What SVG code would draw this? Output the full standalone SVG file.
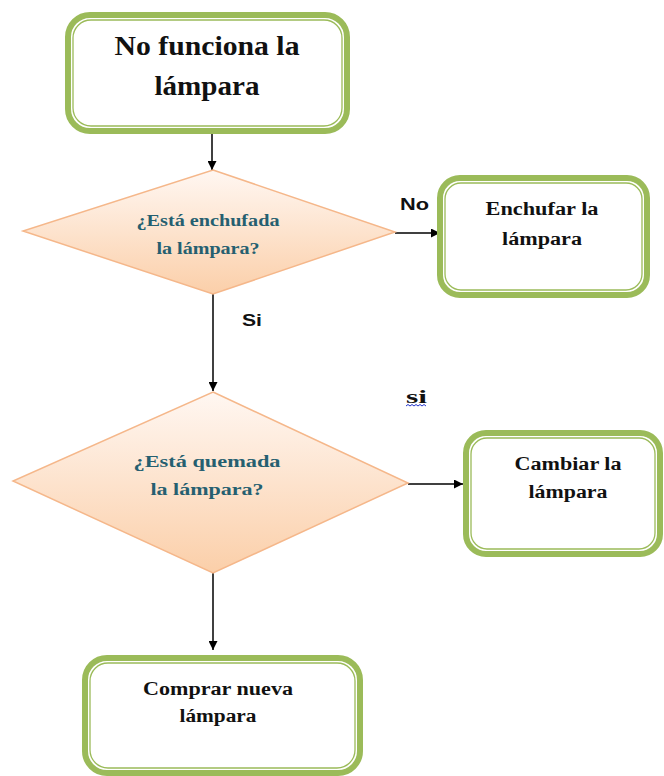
<svg xmlns="http://www.w3.org/2000/svg" width="664" height="776" viewBox="0 0 664 776">
<style>
.outer{fill:#ffffff;stroke:#9bbb59;stroke-width:6}
.inner{fill:none;stroke:#9bbb59;stroke-width:1.3}
.dia{fill:url(#peach);stroke:#f5b78a;stroke-width:1.5}
.box{font-family:"Liberation Serif","Times New Roman",serif;font-weight:bold;fill:#111111;text-anchor:middle}
.q{font-family:"Liberation Serif","Times New Roman",serif;font-weight:bold;fill:#255f70;text-anchor:middle}
.lbl{font-family:"Liberation Sans",Arial,sans-serif;font-weight:bold;fill:#111111}
.conn{stroke:#000000;stroke-width:1.5;fill:none}
</style>
<defs>
<linearGradient id="peach" x1="0" y1="0" x2="0" y2="1">
<stop offset="0" stop-color="#fff7f2"/>
<stop offset="1" stop-color="#fbcfa9"/>
</linearGradient>
<marker id="arr" viewBox="0 0 10 10" refX="10" refY="5" markerWidth="9" markerHeight="9" markerUnits="userSpaceOnUse" orient="auto">
<path d="M0,0 L10,5 L0,10 Z" fill="#000000"/>
</marker>
</defs>

<g id="connectors">
<line class="conn" x1="212" y1="134" x2="212" y2="170" marker-end="url(#arr)"/>
<line class="conn" x1="395" y1="233" x2="440" y2="233" marker-end="url(#arr)"/>
<line class="conn" x1="213" y1="294" x2="213" y2="391" marker-end="url(#arr)"/>
<line class="conn" x1="408" y1="484" x2="463" y2="484" marker-end="url(#arr)"/>
<line class="conn" x1="213" y1="573" x2="213" y2="650" marker-end="url(#arr)"/>
<text class="lbl" x="400" y="210" font-size="16" textLength="29" lengthAdjust="spacingAndGlyphs">No</text>
<text class="lbl" x="242" y="326" font-size="17" textLength="20" lengthAdjust="spacingAndGlyphs">Si</text>
<text x="406" y="403" font-family="Liberation Serif, Times New Roman, serif" font-weight="bold" font-size="18" fill="#111111" textLength="21" lengthAdjust="spacingAndGlyphs">si</text>
<path d="M406,406 l2,-1.5 l2,1.5 l2,-1.5 l2,1.5 l2,-1.5 l2,1.5 l2,-1.5 l2,1.5 l2,-1.5 l2,1.5" stroke="#2233cc" stroke-width="1" fill="none"/>
</g>

<g id="n_start">
<rect class="outer" x="68" y="15" width="279" height="116" rx="22"/>
<rect class="inner" x="73" y="20" width="269" height="106" rx="18"/>
<text class="box" x="207" y="55" font-size="27" textLength="185" lengthAdjust="spacingAndGlyphs">No funciona la</text>
<text class="box" x="207" y="95" font-size="27" textLength="105" lengthAdjust="spacingAndGlyphs">lámpara</text>
</g>

<g id="n_enchufada">
<polygon class="dia" points="213,170 395,232 213,294 23,231"/>
<text class="q" x="208" y="226" font-size="16" textLength="143" lengthAdjust="spacingAndGlyphs">¿Está enchufada</text>
<text class="q" x="208" y="254" font-size="16" textLength="103" lengthAdjust="spacingAndGlyphs">la lámpara?</text>
</g>

<g id="n_enchufar">
<rect class="outer" x="440" y="178" width="207" height="117" rx="20"/>
<rect class="inner" x="445" y="183" width="197" height="107" rx="16"/>
<text class="box" x="542" y="215" font-size="18" textLength="113" lengthAdjust="spacingAndGlyphs">Enchufar la</text>
<text class="box" x="542" y="245" font-size="18" textLength="80" lengthAdjust="spacingAndGlyphs">lámpara</text>
</g>

<g id="n_quemada">
<polygon class="dia" points="213,392 408,483 213,573 13,481"/>
<text class="q" x="207" y="467" font-size="17" textLength="147" lengthAdjust="spacingAndGlyphs">¿Está quemada</text>
<text class="q" x="207" y="495" font-size="17" textLength="113" lengthAdjust="spacingAndGlyphs">la lámpara?</text>
</g>

<g id="n_cambiar">
<rect class="outer" x="466" y="433" width="194" height="121" rx="20"/>
<rect class="inner" x="471" y="438" width="184" height="111" rx="16"/>
<text class="box" x="568" y="470" font-size="18" textLength="107" lengthAdjust="spacingAndGlyphs">Cambiar la</text>
<text class="box" x="568" y="498" font-size="18" textLength="79" lengthAdjust="spacingAndGlyphs">lámpara</text>
</g>

<g id="n_comprar">
<rect class="outer" x="85" y="658" width="275" height="115" rx="22"/>
<rect class="inner" x="90" y="663" width="265" height="105" rx="18"/>
<text class="box" x="218" y="695" font-size="18" textLength="150" lengthAdjust="spacingAndGlyphs">Comprar nueva</text>
<text class="box" x="218" y="722" font-size="18" textLength="77" lengthAdjust="spacingAndGlyphs">lámpara</text>
</g>
</svg>
